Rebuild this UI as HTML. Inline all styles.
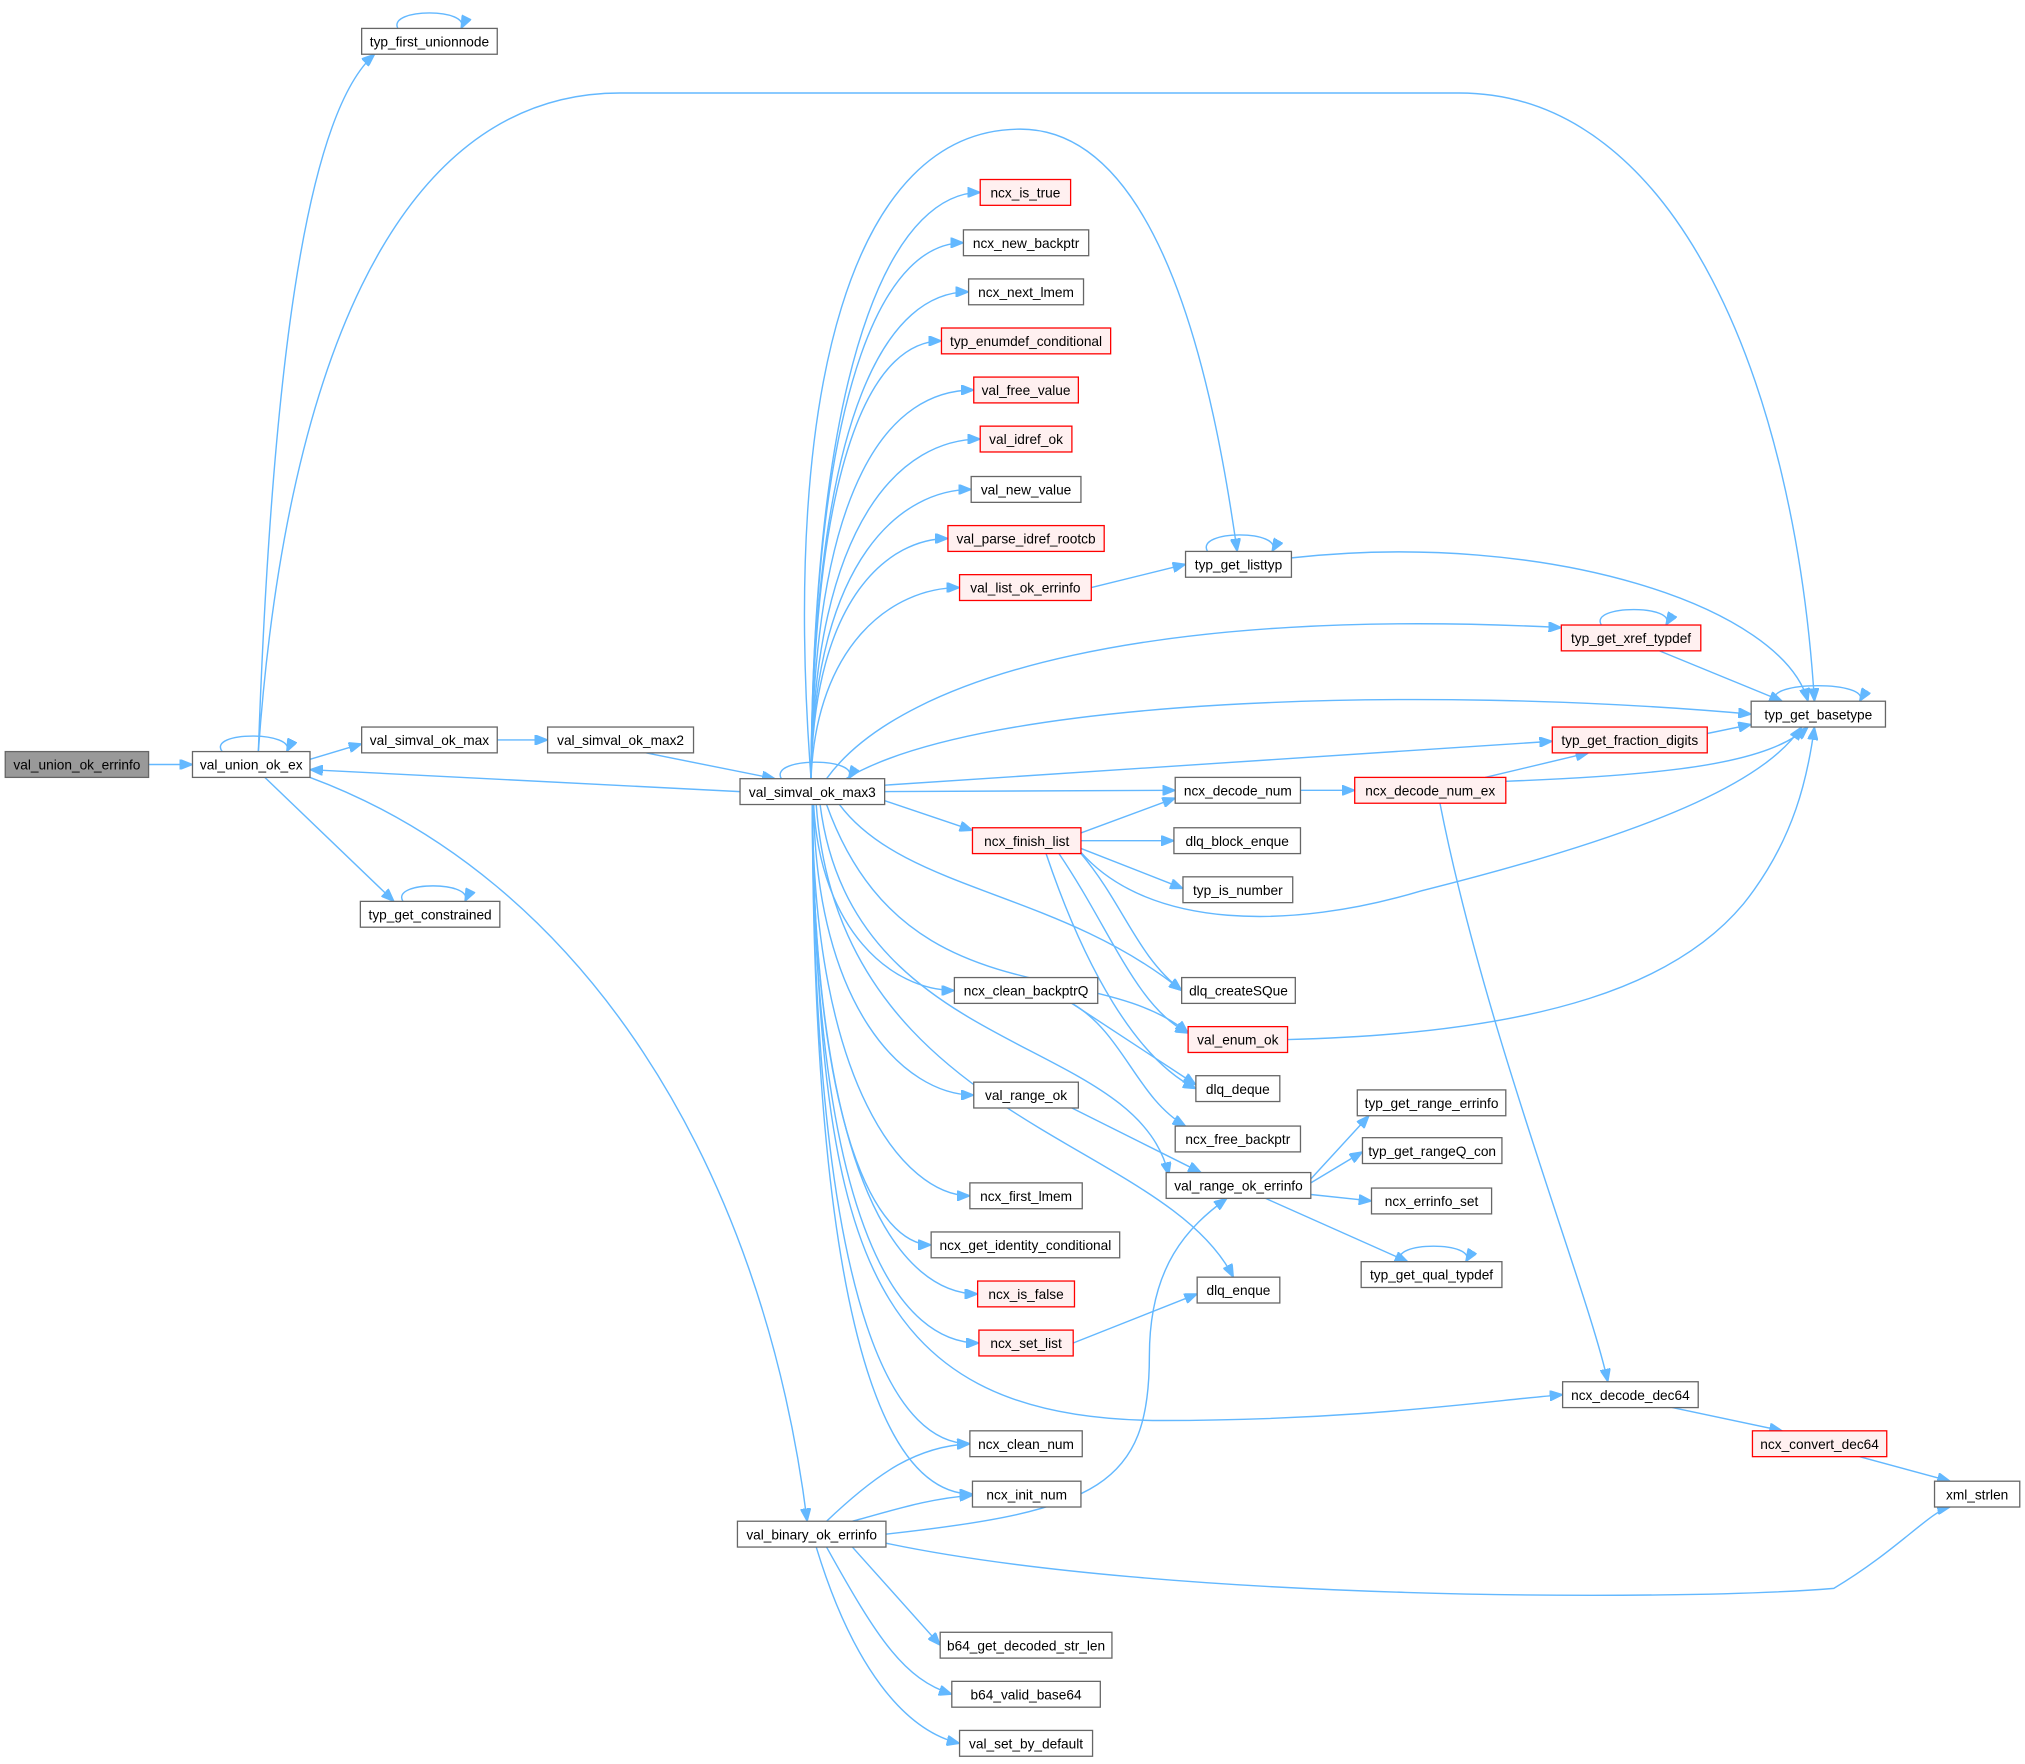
<!DOCTYPE html>
<html><head><meta charset="utf-8"><style>
html,body{margin:0;padding:0;background:#fff;}
svg{display:block;}
text{font-family:"Liberation Sans",Arial,sans-serif;font-size:10.6px;fill:#000;text-anchor:middle;}
.e{fill:none;stroke:#63b8ff;stroke-width:1.1;marker-end:url(#a);}
.n{fill:#fff;stroke:#666;stroke-width:1;}
.r{fill:#fff0f0;stroke:#ff0000;stroke-width:1;}
.g{fill:#999;stroke:#666;stroke-width:1;}
</style></head><body>
<svg width="2025" height="1764" viewBox="0 0 1568 1366" xmlns="http://www.w3.org/2000/svg">
<defs><marker id="a" markerUnits="userSpaceOnUse" markerWidth="11" markerHeight="8" refX="10" refY="4" orient="auto"><path d="M0,0 L10,4 L0,8 z" fill="#63b8ff" stroke="#63b8ff"/></marker></defs>

<path class="e" d="M115,592 L149,592"/>
<path class="e" d="M172,582 C160,566 230,566 222,582"/>
<path class="e" d="M200,582 C210,300 235,90 290,42"/>
<path class="e" d="M200,582 C220,300 300,72 480,72 L1130,72 C1300,72 1390,300 1405,543"/>
<path class="e" d="M240,588 L280,576"/>
<path class="e" d="M205,602 L305,698"/>
<path class="e" d="M240,602 C450,680 590,900 625,1178"/>
<path class="e" d="M385,573 L424,573"/>
<path class="e" d="M500,583 L600,603"/>
<path class="e" d="M573,613 L240,596"/>
<path class="e" d="M605,603 C595,586 668,586 657,603"/>
<path class="e" d="M308,22 C300,6 365,6 357,22"/>
<path class="e" d="M312,698 C302,682 368,682 360,698"/>

<path class="e" d="M628,603 C630,250 700,149 759,149"/>
<path class="e" d="M628,603 C630,280 690,188 746,188"/>
<path class="e" d="M628,603 C630,310 690,226 750,226"/>
<path class="e" d="M628,603 C630,340 680,264 729,264"/>
<path class="e" d="M628,603 C630,370 690,302 754,302"/>
<path class="e" d="M628,603 C630,400 700,340 759,340"/>
<path class="e" d="M628,603 C630,430 700,379 752,379"/>
<path class="e" d="M628,603 C630,460 690,417 734,417"/>
<path class="e" d="M628,603 C632,500 690,455 743,455"/>
<path class="e" d="M628,603 C605,300 660,100 790,100 C900,100 940,300 958,427"/>
<path class="e" d="M640,603 C700,520 900,470 1209,486"/>
<path class="e" d="M655,603 C760,540 1100,530 1356,553"/>
<path class="e" d="M685,608 L1202,574"/>
<path class="e" d="M685,613 L910,612"/>
<path class="e" d="M685,620 L753,643"/>
<path class="e" d="M650,623 C700,690 820,690 915,767"/>
<path class="e" d="M640,623 C700,790 850,740 920,800"/>
<path class="e" d="M635,623 C660,820 880,800 905,910"/>
<path class="e" d="M632,623 C650,870 900,880 955,989"/>
<path class="e" d="M630,623 C635,720 690,767 739,767"/>
<path class="e" d="M630,623 C632,780 700,848 754,848"/>
<path class="e" d="M629,623 C630,840 700,926 751,926"/>
<path class="e" d="M629,623 C630,880 680,964 721,964"/>
<path class="e" d="M629,623 C630,920 700,1002 757,1002"/>
<path class="e" d="M629,623 C630,960 700,1040 758,1040"/>
<path class="e" d="M629,623 C630,1040 700,1118 751,1118"/>
<path class="e" d="M629,623 C630,1080 700,1157 753,1157"/>
<path class="e" d="M629,623 C635,950 660,1100 900,1100 C1050,1100 1150,1085 1210,1080"/>

<path class="e" d="M845,455 L918,437"/>
<path class="e" d="M935,427 C925,410 995,410 985,427"/>
<path class="e" d="M1000,432 C1200,410 1380,470 1400,543"/>
<path class="e" d="M1240,484 C1230,468 1300,468 1290,484"/>
<path class="e" d="M1285,504 L1380,543"/>
<path class="e" d="M1322,568 L1356,561"/>
<path class="e" d="M1375,543 C1365,527 1450,527 1440,543"/>
<path class="e" d="M1007,612 L1049,612"/>
<path class="e" d="M1150,602 L1230,583"/>
<path class="e" d="M1166,605 C1300,600 1370,590 1400,563"/>
<path class="e" d="M1115,622 C1150,800 1230,1000 1245,1070"/>
<path class="e" d="M837,645 L910,618"/>
<path class="e" d="M837,651 L909,651"/>
<path class="e" d="M837,657 L916,688"/>
<path class="e" d="M837,660 C890,720 1000,720 1100,690 C1300,640 1370,600 1395,563"/>
<path class="e" d="M837,661 C870,700 880,740 915,767"/>
<path class="e" d="M820,661 C860,720 880,780 920,800"/>
<path class="e" d="M810,661 C840,750 880,820 926,843"/>
<path class="e" d="M830,777 L926,840"/>
<path class="e" d="M830,777 C870,800 880,850 918,872"/>
<path class="e" d="M997,805 C1200,800 1300,760 1350,700 C1390,650 1400,600 1405,563"/>
<path class="e" d="M830,858 L930,908"/>
<path class="e" d="M1015,913 L1060,864"/>
<path class="e" d="M1015,916 L1055,892"/>
<path class="e" d="M1015,925 L1062,930"/>
<path class="e" d="M980,928 L1090,977"/>
<path class="e" d="M1085,977 C1075,961 1145,961 1135,977"/>
<path class="e" d="M831,1040 L927,1002"/>
<path class="e" d="M1295,1090 L1380,1108"/>
<path class="e" d="M1440,1128 L1510,1147"/>
<path class="e" d="M640,1178 C680,1140 710,1120 751,1118"/>
<path class="e" d="M660,1178 C690,1170 720,1160 753,1158"/>
<path class="e" d="M686,1188 C850,1170 890,1150 890,1050 C890,980 920,950 950,928"/>
<path class="e" d="M686,1195 C900,1240 1300,1240 1420,1230 C1470,1200 1495,1170 1510,1167"/>
<path class="e" d="M660,1198 L728,1274"/>
<path class="e" d="M640,1198 C680,1270 700,1300 737,1312"/>
<path class="e" d="M632,1198 C660,1290 700,1340 743,1350"/>

<rect class="g" x="4" y="582" width="111" height="20"/><text x="59.5" y="596">val_union_ok_errinfo</text>
<rect class="n" x="149" y="582" width="91" height="20"/><text x="194.5" y="596">val_union_ok_ex</text>
<rect class="n" x="280" y="22" width="105" height="20"/><text x="332.5" y="36">typ_first_unionnode</text>
<rect class="n" x="280" y="563" width="105" height="20"/><text x="332.5" y="577">val_simval_ok_max</text>
<rect class="n" x="424" y="563" width="113" height="20"/><text x="480.5" y="577">val_simval_ok_max2</text>
<rect class="n" x="573" y="603" width="112" height="20"/><text x="629" y="617">val_simval_ok_max3</text>
<rect class="n" x="279" y="698" width="108" height="20"/><text x="333" y="712">typ_get_constrained</text>
<rect class="n" x="571" y="1178" width="115" height="20"/><text x="628.5" y="1192">val_binary_ok_errinfo</text>
<rect class="r" x="759" y="139" width="70" height="20"/><text x="794" y="153">ncx_is_true</text>
<rect class="n" x="746" y="178" width="97" height="20"/><text x="794.5" y="192">ncx_new_backptr</text>
<rect class="n" x="750" y="216" width="89" height="20"/><text x="794.5" y="230">ncx_next_lmem</text>
<rect class="r" x="729" y="254" width="131" height="20"/><text x="794.5" y="268">typ_enumdef_conditional</text>
<rect class="r" x="754" y="292" width="81" height="20"/><text x="794.5" y="306">val_free_value</text>
<rect class="r" x="759" y="330" width="71" height="20"/><text x="794.5" y="344">val_idref_ok</text>
<rect class="n" x="752" y="369" width="85" height="20"/><text x="794.5" y="383">val_new_value</text>
<rect class="r" x="734" y="407" width="121" height="20"/><text x="794.5" y="421">val_parse_idref_rootcb</text>
<rect class="r" x="743" y="445" width="102" height="20"/><text x="794" y="459">val_list_ok_errinfo</text>
<rect class="n" x="918" y="427" width="82" height="20"/><text x="959" y="441">typ_get_listtyp</text>
<rect class="r" x="1209" y="484" width="108" height="20"/><text x="1263" y="498">typ_get_xref_typdef</text>
<rect class="n" x="1356" y="543" width="104" height="20"/><text x="1408" y="557">typ_get_basetype</text>
<rect class="r" x="1202" y="563" width="120" height="20"/><text x="1262" y="577">typ_get_fraction_digits</text>
<rect class="n" x="910" y="602" width="97" height="20"/><text x="958.5" y="616">ncx_decode_num</text>
<rect class="r" x="1049" y="602" width="117" height="20"/><text x="1107.5" y="616">ncx_decode_num_ex</text>
<rect class="r" x="753" y="641" width="84" height="20"/><text x="795" y="655">ncx_finish_list</text>
<rect class="n" x="909" y="641" width="98" height="20"/><text x="958" y="655">dlq_block_enque</text>
<rect class="n" x="916" y="679" width="85" height="20"/><text x="958.5" y="693">typ_is_number</text>
<rect class="n" x="915" y="757" width="88" height="20"/><text x="959" y="771">dlq_createSQue</text>
<rect class="n" x="739" y="757" width="111" height="20"/><text x="794.5" y="771">ncx_clean_backptrQ</text>
<rect class="r" x="920" y="795" width="77" height="20"/><text x="958.5" y="809">val_enum_ok</text>
<rect class="n" x="926" y="833" width="65" height="20"/><text x="958.5" y="847">dlq_deque</text>
<rect class="n" x="754" y="838" width="81" height="20"/><text x="794.5" y="852">val_range_ok</text>
<rect class="n" x="1051" y="844" width="115" height="20"/><text x="1108.5" y="858">typ_get_range_errinfo</text>
<rect class="n" x="910" y="872" width="97" height="20"/><text x="958.5" y="886">ncx_free_backptr</text>
<rect class="n" x="1055" y="881" width="108" height="20"/><text x="1109" y="895">typ_get_rangeQ_con</text>
<rect class="n" x="903" y="908" width="112" height="20"/><text x="959" y="922">val_range_ok_errinfo</text>
<rect class="n" x="751" y="916" width="87" height="20"/><text x="794.5" y="930">ncx_first_lmem</text>
<rect class="n" x="1062" y="920" width="93" height="20"/><text x="1108.5" y="934">ncx_errinfo_set</text>
<rect class="n" x="721" y="954" width="146" height="20"/><text x="794" y="968">ncx_get_identity_conditional</text>
<rect class="n" x="1054" y="977" width="109" height="20"/><text x="1108.5" y="991">typ_get_qual_typdef</text>
<rect class="r" x="757" y="992" width="75" height="20"/><text x="794.5" y="1006">ncx_is_false</text>
<rect class="n" x="927" y="989" width="64" height="20"/><text x="959" y="1003">dlq_enque</text>
<rect class="r" x="758" y="1030" width="73" height="20"/><text x="794.5" y="1044">ncx_set_list</text>
<rect class="n" x="1210" y="1070" width="105" height="20"/><text x="1262.5" y="1084">ncx_decode_dec64</text>
<rect class="r" x="1357" y="1108" width="104" height="20"/><text x="1409" y="1122">ncx_convert_dec64</text>
<rect class="n" x="751" y="1108" width="87" height="20"/><text x="794.5" y="1122">ncx_clean_num</text>
<rect class="n" x="753" y="1147" width="84" height="20"/><text x="795" y="1161">ncx_init_num</text>
<rect class="n" x="1498" y="1147" width="66" height="20"/><text x="1531" y="1161">xml_strlen</text>
<rect class="n" x="728" y="1264" width="133" height="20"/><text x="794.5" y="1278">b64_get_decoded_str_len</text>
<rect class="n" x="737" y="1302" width="115" height="20"/><text x="794.5" y="1316">b64_valid_base64</text>
<rect class="n" x="743" y="1340" width="103" height="20"/><text x="794.5" y="1354">val_set_by_default</text>
</svg>
</body></html>
